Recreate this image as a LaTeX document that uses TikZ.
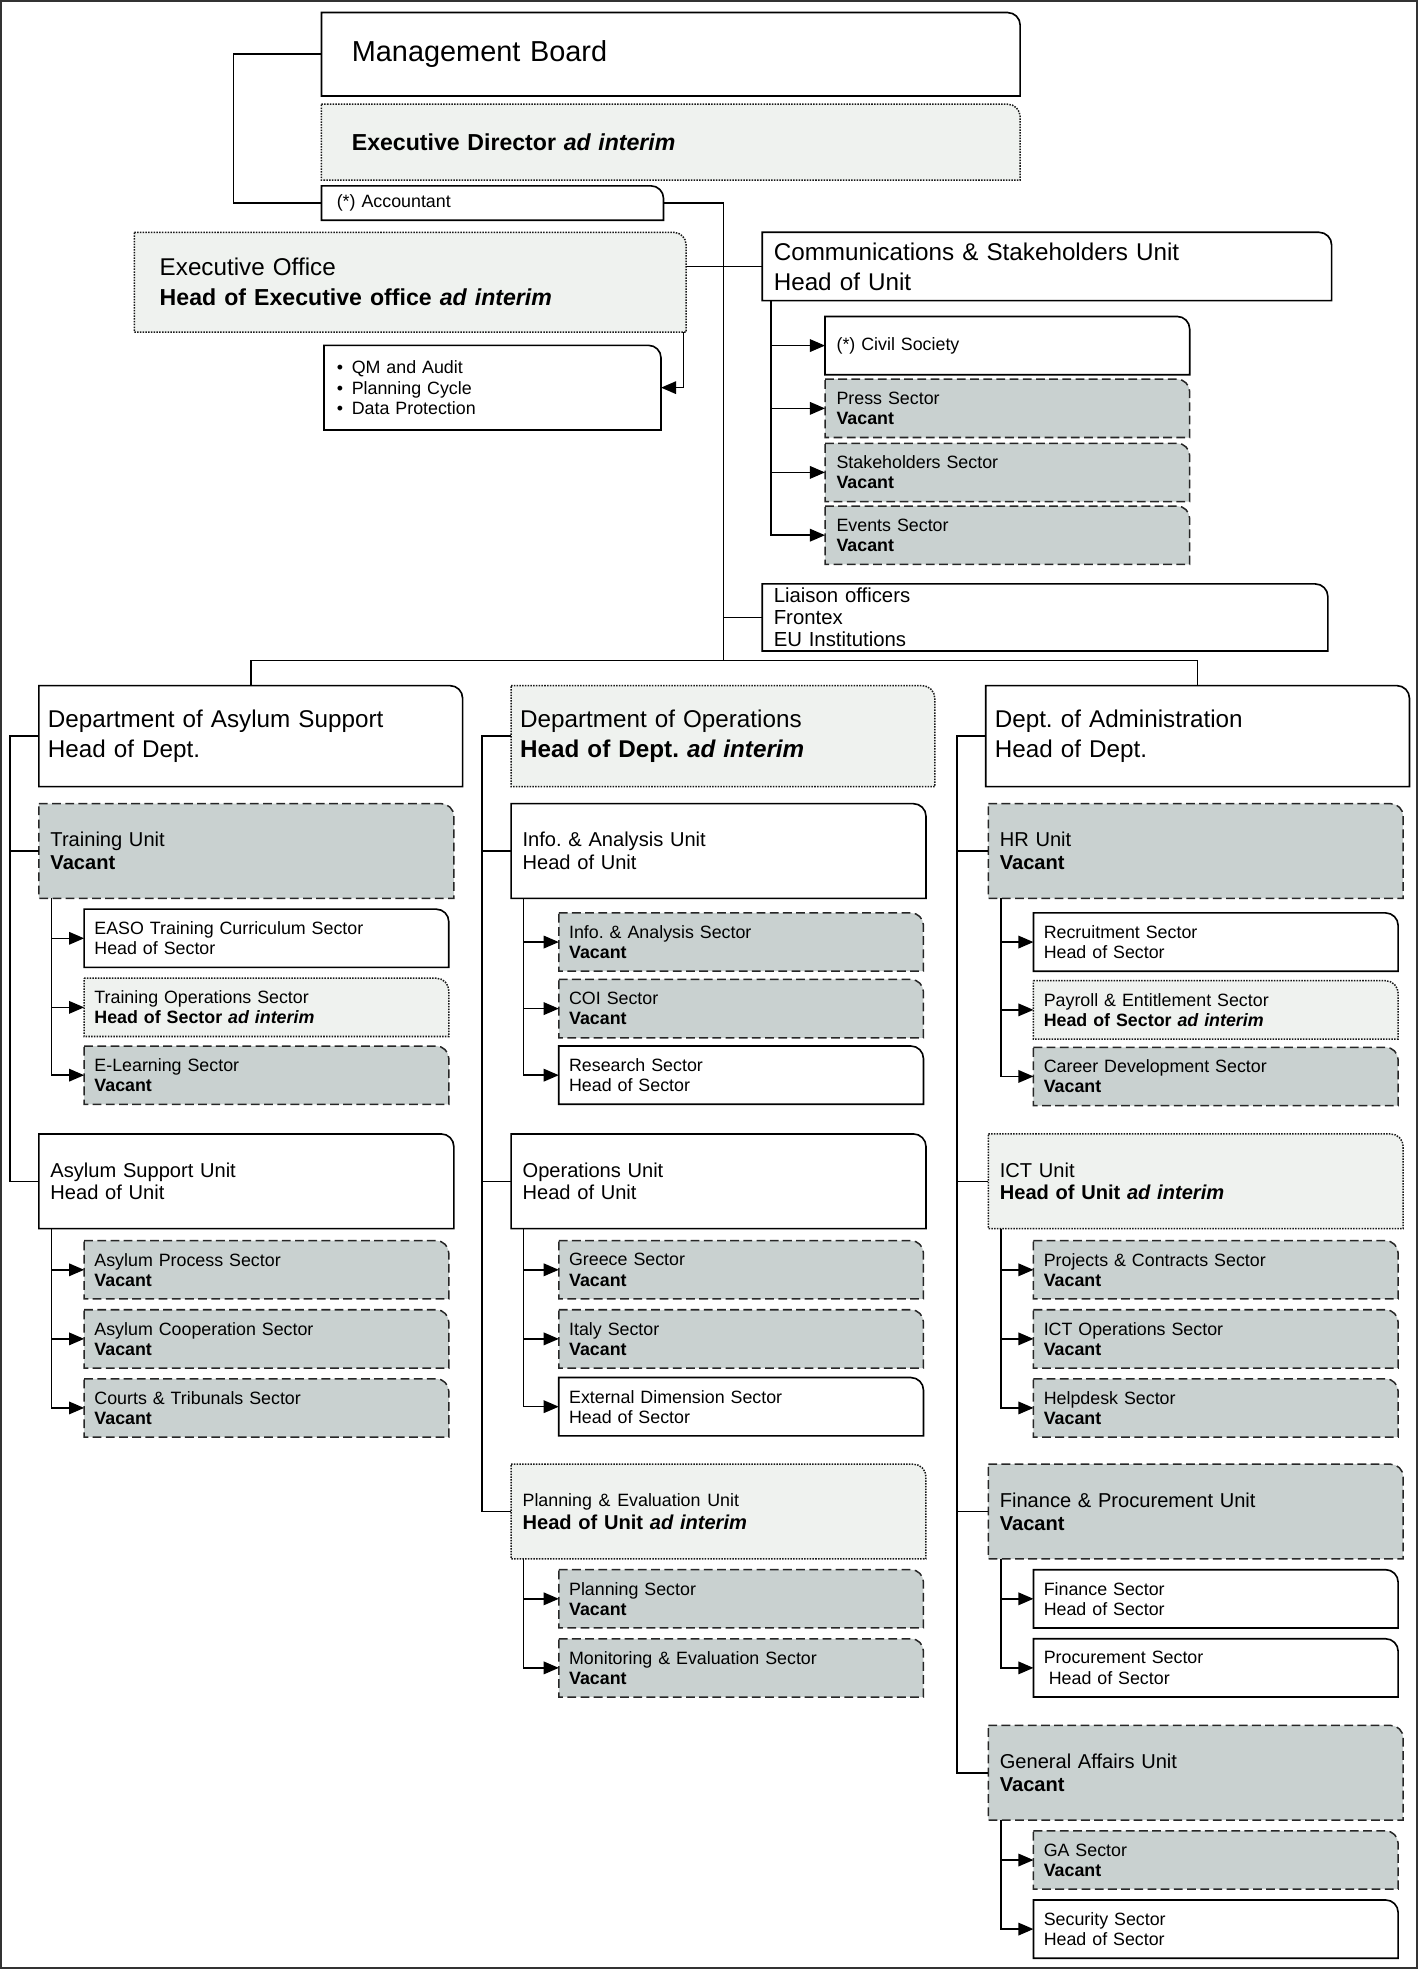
\documentclass[tikz,border=0pt]{standalone}
\usepackage{fontspec}
\setmainfont{Liberation Sans}
\usetikzlibrary{arrows.meta,backgrounds}
\frenchspacing

\definecolor{vacantgrey}{HTML}{C9D1D0}
\definecolor{interimgrey}{HTML}{EFF2EF}

\newcommand{\fmb}{\fontsize{23}{27}\selectfont}
\newcommand{\fed}{\fontsize{18.4}{22}\selectfont}
\newcommand{\fdept}{\fontsize{19.3}{24}\selectfont}
\newcommand{\funit}{\fontsize{16}{18}\selectfont}
\newcommand{\fsect}{\fontsize{14.2}{16}\selectfont}

\tikzset{
  org/.style={anchor=north west, inner xsep=8pt, inner ysep=1pt, align=left},
  deptbox/.style={org, inner xsep=7pt, text width=323pt, minimum height=80pt, font=\fdept},
  unitbox/.style={org, inner xsep=9pt, text width=312pt, minimum height=75pt, font=\funit},
  sectbox/.style={org, text width=274pt, minimum height=46pt, font=\fsect},
  staffed/.style={draw=black, line width=1.3pt, fill=white},
  vacant/.style={draw=black!85, line width=1.2pt, dash pattern=on 7pt off 3.5pt, fill=vacantgrey},
  interim/.style={draw=black!90, line width=1.2pt, densely dotted, fill=interimgrey},
  link/.style={line width=1.2pt},
  arr/.style={link, -{Triangle[length=12pt,width=10pt]}},
}

\begin{document}
\begin{tikzpicture}[x=1pt,y=1pt]
  \useasboundingbox (0,0) rectangle (1129,-1568);
  % top of the chart
  \node[org, inner xsep=24pt, text width=508pt, minimum height=66pt, font=\fmb] (mb) at (256,-10) {Management Board};
  \node[org, inner xsep=24pt, text width=508pt, minimum height=60pt, font=\fed] (ed) at (256,-83) {\textbf{Executive Director \textit{ad interim}}};
  \node[org, inner xsep=12pt, text width=248pt, minimum height=27pt, font=\fsect] (acc) at (256,-148) {(*) Accountant};
  \node[org, inner xsep=20pt, text width=399pt, minimum height=79pt, font=\fdept] (eo) at (107,-185)
    {Executive Office\\{\fontsize{18.4}{24}\selectfont\textbf{Head of Executive office \textit{ad interim}}}};
  \node[org, inner xsep=10pt, text width=248pt, minimum height=67pt, font=\fsect] (qm) at (258,-275)
    {\textbullet\hspace{7pt}QM and Audit\\\textbullet\hspace{7pt}Planning Cycle\\\textbullet\hspace{7pt}Data Protection};
  \node[org, inner xsep=9pt, text width=435pt, minimum height=54pt, font=\fdept] (comms) at (607,-185) {Communications \& Stakeholders Unit\\Head of Unit};
  \node[sectbox, inner xsep=9pt, text width=272pt] (civ) at (657,-252) {(*) Civil Society};
  \node[sectbox, inner xsep=9pt, text width=272pt] (press) at (657,-302) {Press Sector\\\textbf{Vacant}};
  \node[sectbox, inner xsep=9pt, text width=272pt] (stake) at (657,-353) {Stakeholders Sector\\\textbf{Vacant}};
  \node[sectbox, inner xsep=9pt, text width=272pt] (events) at (657,-403) {Events Sector\\\textbf{Vacant}};
  \node[org, inner xsep=9pt, text width=432pt, minimum height=53pt, font={\fontsize{16.2}{17.5}\selectfont}] (liaison) at (607,-465)
    {Liaison officers\\Frontex\\EU Institutions};
  \coordinate (bar) at (576,-526);

  % asylum support
  \node[deptbox] (das) at (31,-546) {Department of Asylum Support\\Head of Dept.};
  \node[unitbox] (tru) at (31,-640) {Training Unit\\\textbf{Vacant}};
  \node[sectbox] (easo) at (67,-724) {EASO Training Curriculum Sector\\Head of Sector};
  \node[sectbox] (trops) at (67,-779) {Training Operations Sector\\\textbf{Head of Sector \textit{ad interim}}};
  \node[sectbox] (elearn) at (67,-833) {E-Learning Sector\\\textbf{Vacant}};
  \node[unitbox] (asu) at (31,-903) {Asylum Support Unit\\Head of Unit};
  \node[sectbox] (aproc) at (67,-988) {Asylum Process Sector\\\textbf{Vacant}};
  \node[sectbox] (acoop) at (67,-1043) {Asylum Cooperation Sector\\\textbf{Vacant}};
  \node[sectbox] (courts) at (67,-1098) {Courts \& Tribunals Sector\\\textbf{Vacant}};

  % operations
  \node[deptbox] (dops) at (407,-546) {Department of Operations\\\textbf{Head of Dept. \textit{ad interim}}};
  \node[unitbox] (iau) at (407,-640) {Info. \& Analysis Unit\\Head of Unit};
  \node[sectbox] (ias) at (445,-727) {Info. \& Analysis Sector\\\textbf{Vacant}};
  \node[sectbox] (coi) at (445,-780) {COI Sector\\\textbf{Vacant}};
  \node[sectbox] (research) at (445,-833) {Research Sector\\Head of Sector};
  \node[unitbox] (opu) at (407,-903) {Operations Unit\\Head of Unit};
  \node[sectbox] (greece) at (445,-988) {Greece Sector\\\textbf{Vacant}};
  \node[sectbox] (italy) at (445,-1043) {Italy Sector\\\textbf{Vacant}};
  \node[sectbox] (extdim) at (445,-1097) {External Dimension Sector\\Head of Sector};
  \node[unitbox] (peu) at (407,-1166) {{\fsect Planning \& Evaluation Unit}\\\textbf{Head of Unit \textit{ad interim}}};
  \node[sectbox] (planning) at (445,-1250) {Planning Sector\\\textbf{Vacant}};
  \node[sectbox] (monev) at (445,-1305) {Monitoring \& Evaluation Sector\\\textbf{Vacant}};

  % administration
  \node[deptbox] (dadm) at (785,-546) {Dept. of Administration\\Head of Dept.};
  \node[unitbox] (hru) at (787,-640) {HR Unit\\\textbf{Vacant}};
  \node[sectbox] (recruit) at (823,-727) {Recruitment Sector\\Head of Sector};
  \node[sectbox] (payroll) at (823,-781) {Payroll \& Entitlement Sector\\\textbf{Head of Sector \textit{ad interim}}};
  \node[sectbox] (career) at (823,-834) {Career Development Sector\\\textbf{Vacant}};
  \node[unitbox] (ictu) at (787,-903) {ICT Unit\\\textbf{Head of Unit \textit{ad interim}}};
  \node[sectbox] (projects) at (823,-988) {Projects \& Contracts Sector\\\textbf{Vacant}};
  \node[sectbox] (ictops) at (823,-1043) {ICT Operations Sector\\\textbf{Vacant}};
  \node[sectbox] (helpdesk) at (823,-1098) {Helpdesk Sector\\\textbf{Vacant}};
  \node[unitbox] (fpu) at (787,-1166) {Finance \& Procurement Unit\\\textbf{Vacant}};
  \node[sectbox] (finance) at (823,-1250) {Finance Sector\\Head of Sector};
  \node[sectbox] (procure) at (823,-1305) {Procurement Sector\\\hspace*{4pt}Head of Sector};
  \node[unitbox] (gau) at (787,-1374) {General Affairs Unit\\\textbf{Vacant}};
  \node[sectbox] (gasec) at (823,-1458) {GA Sector\\\textbf{Vacant}};
  \node[sectbox] (security) at (823,-1513) {Security Sector\\Head of Sector};

  % box outlines, top right corner rounded
  \begin{scope}[on background layer]
    \foreach \n/\look in {mb/staffed, ed/interim, acc/staffed, eo/interim, qm/staffed,
        comms/staffed, civ/staffed, press/vacant, stake/vacant, events/vacant, liaison/staffed,
        das/staffed, tru/vacant, easo/staffed, trops/interim, elearn/vacant,
        asu/staffed, aproc/vacant, acoop/vacant, courts/vacant,
        dops/interim, iau/staffed, ias/vacant, coi/vacant, research/staffed,
        opu/staffed, greece/vacant, italy/vacant, extdim/staffed,
        peu/interim, planning/vacant, monev/vacant,
        dadm/staffed, hru/vacant, recruit/staffed, payroll/interim, career/vacant,
        ictu/interim, projects/vacant, ictops/vacant, helpdesk/vacant,
        fpu/vacant, finance/staffed, procure/staffed,
        gau/vacant, gasec/vacant, security/staffed}
      \draw[\look] (\n.north west) -- ([xshift=-10pt]\n.north east)
        arc[start angle=90, end angle=0, radius=10pt] -- (\n.south east) -- (\n.south west) -- cycle;
  \end{scope}

  % top links
  \draw[link] (mb.west) -- ++(-70,0) |- (acc.west);
  \draw[link] (acc.east) -| (bar);
  \draw[link] (eo.east |- comms.west) -- (comms.west);
  \draw[arr] ([xshift=-2pt]eo.south east) |- (qm.east);
  \foreach \s in {civ,press,stake,events}
    \draw[arr] ([xshift=7pt]comms.south west) |- (\s.west);
  \draw[link] (bar |- liaison.west) -- (liaison.west);
  \draw[link] (das.north) -- (das.north |- bar) -| (dadm.north);

  % department spines
  \draw[link] (das.west) -- ++(-23,0) coordinate (lsp) |- (asu.west);
  \draw[link] (lsp |- tru.west) -- (tru.west);
  \draw[link] (dops.west) -- ++(-23,0) coordinate (msp) |- (peu.west);
  \foreach \u in {iau,opu}
    \draw[link] (msp |- \u.west) -- (\u.west);
  \draw[link] (dadm.west) -- ++(-23,0) coordinate (rsp) |- (gau.west);
  \foreach \u in {hru,ictu,fpu}
    \draw[link] (rsp |- \u.west) -- (\u.west);

  % units to sectors
  \foreach \u/\kids in {tru/{easo,trops,elearn}, asu/{aproc,acoop,courts},
      iau/{ias,coi,research}, opu/{greece,italy,extdim}, peu/{planning,monev},
      hru/{recruit,payroll,career}, ictu/{projects,ictops,helpdesk},
      fpu/{finance,procure}, gau/{gasec,security}}
    \foreach \s in \kids
      \draw[arr] ([xshift=10pt]\u.south west) |- (\s.west);

  % frame
  \draw[line width=1.5pt, black!80] (0.75,-0.75) rectangle (1128.25,-1567.25);
\end{tikzpicture}
\end{document}
